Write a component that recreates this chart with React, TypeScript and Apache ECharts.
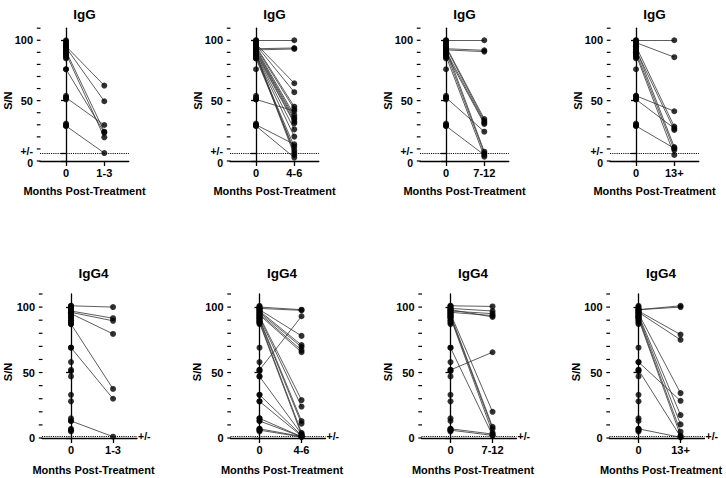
import React, { useEffect, useRef } from "react";
import * as echarts from "echarts";

// ---------- data ----------
const TITLES = ["IgG", "IgG4"];
const CATEGORIES = ["1-3", "4-6", "7-12", "13+"];
const CUTOFFS = [6.6, 1.2];
const Y_MAJOR = [0, 50, 100];
const Y_MINOR = [0, 10, 20, 30, 40, 50, 60, 70, 80, 90, 100, 110];

const IGG_BASELINE = [100, 99, 98, 97, 96, 95, 94, 93, 92, 91, 90, 89, 88, 87, 86, 85, 76, 54, 52.5, 51, 31, 30, 29];
const IGG4_BASELINE = [101, 100, 99, 98, 97, 96, 95, 94, 93, 92, 91, 90, 89, 88, 87, 69, 58, 52, 51, 47, 33, 28, 15, 13, 7, 6, 5];

const IGG_1_3_BEFORE = [95, 94, 91, 89, 76, 52.5, 29];
const IGG_1_3_AFTER = [62.5, 49.5, 24.3, 19.6, 23.5, 29.8, 6.6];

const IGG_4_6_BEFORE = [100, 93, 92, 97, 96, 95, 94, 51, 93, 92, 91, 90, 89, 88, 87, 30, 86, 85, 89, 88, 29];
const IGG_4_6_AFTER = [100, 93.6, 92.8, 64.4, 57, 45, 43, 41.4, 38, 36, 34.5, 32.6, 31.2, 26.2, 20.2, 13.8, 11.9, 9.1, 6.9, 5, 2.8];

const IGG_7_12_BEFORE = [100, 93, 92, 95, 94, 91, 89, 52.5, 93, 90, 87, 29];
const IGG_7_12_AFTER = [100, 91.7, 90.6, 34.8, 33.1, 31.8, 30.7, 24.3, 7.7, 6.4, 3.6, 5];

const IGG_13_BEFORE = [100, 98, 54, 51, 95, 92, 29, 93, 90, 88];
const IGG_13_AFTER = [100, 86, 41.2, 27, 28.5, 25.7, 10.5, 11.6, 9.1, 5];

const IGG4_1_3_BEFORE = [101, 97, 96, 95, 87, 69, 13];
const IGG4_1_3_AFTER = [100, 91.5, 89.5, 79.5, 37.5, 30, 1];

const IGG4_4_6_BEFORE = [100, 99, 52, 98, 97, 96, 95, 94, 93, 92, 91, 90, 89, 88, 47, 33, 28, 15, 13, 7, 6];
const IGG4_4_6_AFTER = [98, 97.5, 93, 78, 71, 69.5, 67, 65.5, 29, 24, 13, 11, 4, 2.5, 3, 2, 1.5, 1, 1, 1.2, 0.8];

const IGG4_7_12_BEFORE = [101, 99, 97, 96, 98, 52, 69, 95, 94, 93, 92, 7, 6];
const IGG4_7_12_AFTER = [100.5, 97, 95, 93.5, 92.5, 65.5, 2, 20, 8.5, 7, 4, 3, 2];

const IGG4_13_BEFORE = [98, 98, 97, 96, 95, 94, 93, 92, 91, 58, 52, 7];
const IGG4_13_AFTER = [101, 100, 79, 75, 34.3, 17.5, 10.4, 4.8, 1.8, 28.4, 1, 0.5];

const PANELS = [
  { row: 0, col: 0, base: IGG_BASELINE, before: IGG_1_3_BEFORE, after: IGG_1_3_AFTER },
  { row: 0, col: 1, base: IGG_BASELINE, before: IGG_4_6_BEFORE, after: IGG_4_6_AFTER },
  { row: 0, col: 2, base: IGG_BASELINE, before: IGG_7_12_BEFORE, after: IGG_7_12_AFTER },
  { row: 0, col: 3, base: IGG_BASELINE, before: IGG_13_BEFORE, after: IGG_13_AFTER },
  { row: 1, col: 0, base: IGG4_BASELINE, before: IGG4_1_3_BEFORE, after: IGG4_1_3_AFTER },
  { row: 1, col: 1, base: IGG4_BASELINE, before: IGG4_4_6_BEFORE, after: IGG4_4_6_AFTER },
  { row: 1, col: 2, base: IGG4_BASELINE, before: IGG4_7_12_BEFORE, after: IGG4_7_12_AFTER },
  { row: 1, col: 3, base: IGG4_BASELINE, before: IGG4_13_BEFORE, after: IGG4_13_AFTER },
];

// ---------- layout ----------
const FONT = '"Liberation Sans", Arial, Helvetica, sans-serif';
const LAYOUT = [
  { lefts: [40, 230, 420, 610], top: 28.2, height: 132.8, width: 88.8, xmin: -0.68, xmax: 1.64, titleY: 14, titleDx: 44.5, xnameY: 190.5, xnameDx: 44.5, snY: 100.7, snDx: -32.5 },
  { lefts: [42, 230.5, 421.5, 609.5], top: 294, height: 144, width: 95, xmin: -0.69, xmax: 1.57, titleY: 273, titleDx: 51.5, xnameY: 470, xnameDx: 51.5, snY: 372, snDx: -34 },
];

function buildOption() {
  const grid: any[] = [];
  const xAxis: any[] = [];
  const yAxis: any[] = [];
  const series: any[] = [];
  const graphic: any[] = [];
  const lineStyle = { color: "#000", width: 1.3 };
  const labelStyle = { color: "#000", fontFamily: FONT, fontWeight: "bold", fontSize: 11 };

  PANELS.forEach((p, g) => {
    const L = LAYOUT[p.row];
    const left = L.lefts[p.col];
    const cat = CATEGORIES[p.col];
    const cutoff = CUTOFFS[p.row];
    const top = p.row === 0;
    grid.push({ left, top: L.top, width: L.width, height: L.height, containLabel: false });

    xAxis.push({
      gridIndex: g,
      type: "value",
      min: L.xmin,
      max: L.xmax,
      axisLine: { show: true, lineStyle },
      axisTick: { show: true, customValues: [0, 1], length: 5, lineStyle },
      axisLabel: { ...labelStyle, customValues: [0, 1], margin: 6, formatter: (v: number) => (v === 0 ? "0" : cat) },
      splitLine: { show: false },
    });

    const majors = top ? [...Y_MAJOR, cutoff] : Y_MAJOR;
    yAxis.push({
      gridIndex: g,
      type: "value",
      min: 0,
      max: 110,
      position: "left",
      axisLine: { show: true, lineStyle },
      axisTick: { show: true, customValues: majors, length: 5, lineStyle },
      axisLabel: {
        ...labelStyle,
        customValues: majors,
        margin: 7,
        formatter: (v: number) => (v === cutoff ? "{a|+/-}" : v === 0 && top ? "{b|0}" : String(v)),
        rich: {
          a: { ...labelStyle, fontSize: 10.5, lineHeight: 8, padding: [0, 0, 4, 0] },
          b: { ...labelStyle, fontSize: 10.5, lineHeight: 8, padding: [4, 0, 0, 0] },
        },
      },
      splitLine: { show: false },
    });

    // minor ticks every 10 on the y axis
    series.push({
      type: "custom",
      xAxisIndex: g,
      yAxisIndex: g,
      silent: true,
      clip: false,
      z: 5,
      data: Y_MINOR.map((v) => [0, v]),
      renderItem: (params: any, api: any) => {
        const pt = api.coord([0, api.value(1)]);
        const x0 = params.coordSys.x;
        return {
          type: "line",
          shape: { x1: x0 - 3.2, y1: pt[1], x2: x0 + 0.5, y2: pt[1] },
          style: { stroke: "#000", lineWidth: 1.2 },
        };
      },
    });

    series.push({
      type: "lines",
      coordinateSystem: "cartesian2d",
      xAxisIndex: g,
      yAxisIndex: g,
      silent: true,
      z: 2,
      lineStyle: { color: "#333", width: 0.8, opacity: 1 },
      data: p.before.map((b, i) => ({ coords: [[0, b], [1, p.after[i]]] })),
    });

    series.push({
      type: "scatter",
      xAxisIndex: g,
      yAxisIndex: g,
      symbol: "circle",
      symbolSize: 6,
      z: 3,
      silent: true,
      itemStyle: { color: "#000" },
      data: [
        ...p.base.map((v) => [0, v]),
        ...p.before.map((v) => [0, v]),
        ...p.after.map((v) => [1, v]),
      ],
      markLine: {
        silent: true,
        symbol: "none",
        animation: false,
        lineStyle: { type: "dotted", color: "#000", width: 1.1 },
        label: {
          show: !top,
          position: "end",
          formatter: "+/-",
          distance: 1,
          color: "#000",
          fontFamily: FONT,
          fontWeight: "bold",
          fontSize: 10.5,
        },
        data: [{ yAxis: cutoff }],
      },
    });

    const textStyle = { fill: "#000", fontFamily: FONT, fontWeight: "bold" };
    graphic.push({
      type: "text",
      x: left + L.titleDx,
      y: L.titleY,
      style: { ...textStyle, text: TITLES[p.row], fontSize: 13.5, align: "center", verticalAlign: "middle", textAlign: "center", textVerticalAlign: "middle" },
    });
    graphic.push({
      type: "text",
      x: left + L.xnameDx,
      y: L.xnameY,
      style: { ...textStyle, text: "Months Post-Treatment", fontSize: 11, align: "center", verticalAlign: "middle", textAlign: "center", textVerticalAlign: "middle" },
    });
    graphic.push({
      type: "text",
      x: left + L.snDx,
      y: L.snY,
      rotation: Math.PI / 2,
      style: { ...textStyle, text: "S/N", fontSize: 11, align: "center", verticalAlign: "middle", textAlign: "center", textVerticalAlign: "middle" },
    });
  });

  return {
    animation: false,
    backgroundColor: "#fff",
    grid,
    xAxis,
    yAxis,
    series,
    graphic,
  };
}

export default function App() {
  const ref = useRef<HTMLDivElement>(null);
  useEffect(() => {
    if (!ref.current) return;
    const chart = echarts.init(ref.current, undefined, { renderer: "svg" });
    chart.setOption(buildOption() as any);
    return () => chart.dispose();
  }, []);
  return <div ref={ref} style={{ position: "fixed", left: 0, top: 0, width: 726, height: 478 }} />;
}
